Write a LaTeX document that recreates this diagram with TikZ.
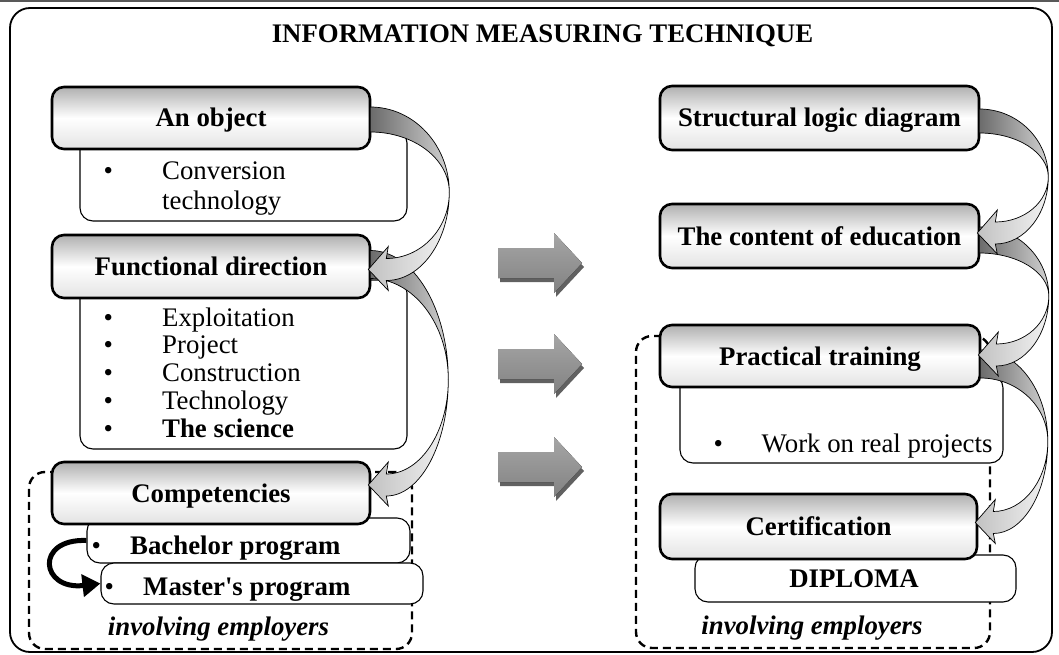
\documentclass[tikz,border=0pt]{standalone}
\usepackage{fontspec}
\setmainfont{Liberation Serif}
\usetikzlibrary{calc,arrows.meta}
\tikzset{
 hdr/.style={draw=black, line width=2.6pt, rounded corners=12pt, top color=gray!62, bottom color=gray!22, middle color=white, font=\bfseries, text height=20pt, text depth=2pt, inner sep=0pt},
 subbox/.style={draw=black, line width=1.1pt, rounded corners=13pt, fill=white, inner sep=0pt},
 dashbox/.style={draw=black, line width=2.4pt, dash pattern=on 8pt off 5pt, rounded corners=16pt, inner sep=0pt},
 framebox/.style={draw=black, line width=1.8pt, rounded corners=20pt, inner sep=0pt},
 gup/.style={draw=black, line width=0.7pt, left color=black!58, right color=black!18},
 glo/.style={draw=black, line width=0.7pt, left color=black!24, right color=black!5},
 blockarrow/.style={top color=gray!70, bottom color=gray!98},
 blockshadow/.style={fill=black!62},
 blkarrow/.style={line width=5pt, -{Triangle[length=18pt,width=22pt]}},
 listtxt/.style={anchor=base west, inner sep=0pt},
}
% #1 source, #2 target, #3 bulge, #4 band top, #5 band bottom, #6 tip dy
\newcommand\garrow[6]{%
 \coordinate (#1#2a) at ($(#1.east)+(-1,#4)$);
 \coordinate (#1#2b) at ($(#1.east)+(-1,#5)$);
 \coordinate (#1#2r) at ($(#1.east)!0.5!(#2.east)+(#3,0)$);
 \coordinate (#1#2t) at ($(#2.east)+(-3,#6)$);
 \coordinate (#1#2ha) at ($(#1#2t)+(20,-23)$);
 \coordinate (#1#2hb) at ($(#1#2t)+(20,21)$);
 \coordinate (#1#2ja) at ($(#1#2t)+(18,-11)$);
 \coordinate (#1#2jb) at ($(#1#2t)+(18,11)$);
 \coordinate (#1#2ca) at (#1#2a -| #1#2r);
 \coordinate (#1#2cb) at (#1#2b -| #1#2r);
 \coordinate (#1#2cja) at (#1#2ja -| #1#2r);
 \coordinate (#1#2cjb) at (#1#2jb -| #1#2r);
}
\newcommand\garrowup[2]{%
 \draw[gup] (#1#2a) .. controls ($(#1#2a)!0.552!(#1#2ca)$) and ($(#1#2r)!0.552!(#1#2ca)$) .. (#1#2r)
   .. controls ($(#1#2r)!0.552!(#1#2cb)$) and ($(#1#2b)!0.552!(#1#2cb)$) .. (#1#2b) -- cycle;}
\newcommand\garrowlo[2]{%
 \draw[glo] (#1#2r) .. controls ($(#1#2r)!0.552!(#1#2cjb)$) and ($(#1#2jb)!0.552!(#1#2cjb)$) .. (#1#2jb)
   -- (#1#2hb) -- (#1#2t) -- (#1#2ha) -- (#1#2ja)
   .. controls ($(#1#2ja)!0.552!(#1#2cja)$) and ($(#1#2r)!0.552!(#1#2cja)$) .. (#1#2r) -- cycle;}
\begin{document}
\fontsize{26.8}{28}\selectfont
\begin{tikzpicture}[x=1pt,y=-1pt]
\useasboundingbox (0,0) rectangle (1059,655);
\draw[line width=1.4pt, black!65] (0,1) -- (1059,1);
\node[framebox, minimum width=1042pt, minimum height=644pt] (frame) at (531,330) {};
\node[anchor=base, font=\bfseries] (title) at (542.5,43) {INFORMATION MEASURING TECHNIQUE};
% dashed groups
\node[dashbox, minimum width=383pt, minimum height=177pt] (dashL) at (220.5,560.5) {};
\node[dashbox, minimum width=354pt, minimum height=312pt] (dashR) at (813,492) {};
% sub boxes
\node[subbox, minimum width=327pt, minimum height=91pt] (objsub) at (243.5,175.5) {};
\node[subbox, minimum width=327pt, minimum height=169pt] (funsub) at (243.5,364.5) {};
\node[subbox, minimum width=323pt, minimum height=45pt] (bach) at (248.5,540.5) {};
\node[subbox, minimum width=322pt, minimum height=41pt] (mast) at (262,583.5) {};
\node[subbox, minimum width=323pt, minimum height=88pt] (pracsub) at (841.5,419) {};
\node[subbox, minimum width=321pt, minimum height=47pt] (dipl) at (855.5,578.5) {};
% header boxes
\node[hdr, minimum width=318pt, minimum height=62pt] (obj) at (211,118) {An object};
\node[hdr, minimum width=318pt, minimum height=63pt] (fun) at (211,266.5) {Functional direction};
\node[hdr, minimum width=318pt, minimum height=62pt] (comp) at (211,493) {Competencies};
\node[hdr, minimum width=319pt, minimum height=64pt] (sld) at (819.5,118) {Structural logic diagram};
\node[hdr, minimum width=319pt, minimum height=64pt] (coe) at (819.5,236) {The content of education};
\node[hdr, minimum width=320pt, minimum height=62pt] (prac) at (820,356) {Practical training};
\node[hdr, minimum width=317pt, minimum height=65pt] (cert) at (818.5,526.5) {Certification};
% curved connectors
\garrow{obj}{fun}{78}{-11}{14}{3}
\garrow{fun}{comp}{77}{-16}{12}{-8}
\garrow{sld}{coe}{68}{-9}{15}{-3}
\garrow{coe}{prac}{68}{-9}{17}{-1}
\garrow{prac}{cert}{68}{-6}{22}{-4}
\garrowup{obj}{fun}
\garrowup{fun}{comp}
\garrowup{sld}{coe}
\garrowup{coe}{prac}
\garrowup{prac}{cert}
\garrowlo{obj}{fun}
\garrowlo{fun}{comp}
\garrowlo{sld}{coe}
\garrowlo{coe}{prac}
\garrowlo{prac}{cert}
% block arrows
\foreach \c in {263,364,467} {
 \fill[blockshadow, shift={(2,4)}] (498,{\c-15}) -- (554,{\c-15}) -- (554,{\c-30}) -- (582,\c) -- (554,{\c+30}) -- (554,{\c+15}) -- (498,{\c+15}) -- cycle;
 \fill[blockarrow] (498,{\c-15}) -- (554,{\c-15}) -- (554,{\c-30}) -- (582,\c) -- (554,{\c+30}) -- (554,{\c+15}) -- (498,{\c+15}) -- cycle;
}
% bachelor -> master
\draw[blkarrow] (bach.west) .. controls +(-52,-2) and +(-60,7) .. (mast.west);
% texts
\node[listtxt] (objlist) at (103.5,179) {\fontsize{26.8}{30}\selectfont\begin{tabular}[t]{@{}p{58.5pt}@{}l@{}}•&Conversion\\ &technology\end{tabular}};
\node[listtxt] (funlist) at (103.5,326) {\fontsize{26.8}{27.8}\selectfont\begin{tabular}[t]{@{}p{58.5pt}@{}l@{}}•&Exploitation\\•&Project\\•&Construction\\•&Technology\\•&\textbf{The science}\end{tabular}};
\node[listtxt, font=\bfseries] (bachtxt) at (91.5,554) {\begin{tabular}[t]{@{}p{38.5pt}@{}l@{}}{\mdseries •}&Bachelor program\end{tabular}};
\node[listtxt, font=\bfseries] (masttxt) at (104.5,595) {\begin{tabular}[t]{@{}p{38.5pt}@{}l@{}}{\mdseries •}&Master\textquotesingle s program\end{tabular}};
\node[listtxt] (worktxt) at (713.5,452) {\begin{tabular}[t]{@{}p{48pt}@{}l@{}}•&Work on real projects\end{tabular}};
\node[anchor=base, font=\bfseries] (dipltxt) at (854,587) {DIPLOMA};
\node[anchor=base, font=\bfseries\itshape] (empL) at (218.5,635) {involving employers};
\node[anchor=base, font=\bfseries\itshape] (empR) at (812,634) {involving employers};
\end{tikzpicture}
\end{document}
